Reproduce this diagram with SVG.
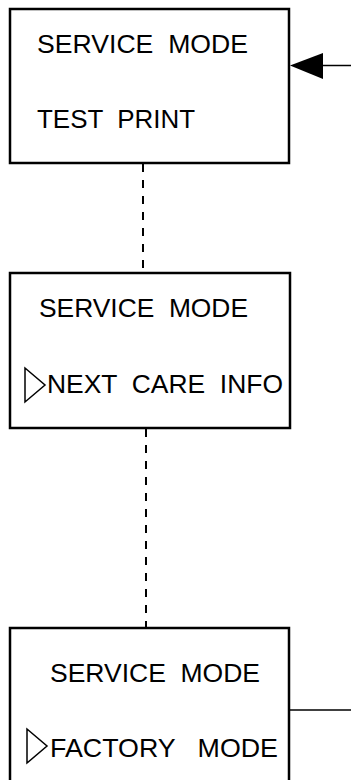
<svg xmlns="http://www.w3.org/2000/svg" width="351" height="780" viewBox="0 0 351 780">
<style>
.box{fill:#fff;stroke:#000;stroke-width:2.5}
.t{font-family:"Liberation Sans",Arial,sans-serif;font-size:26.5px;fill:#000}
.tri{fill:#fff;stroke:#000;stroke-width:1.5}
.dash{stroke:#000;stroke-width:2;stroke-dasharray:8 8;fill:none}
.ln{stroke:#000;stroke-width:1.5;fill:none}
</style>
<rect width="351" height="780" fill="#fff"/>
<g id="connectors">
<line class="dash" x1="143" y1="164" x2="143" y2="272"/>
<line class="dash" x1="146" y1="429" x2="146" y2="627"/>
<line class="ln" x1="322" y1="65.5" x2="351" y2="65.5"/>
<polygon points="290,65.5 323,53 323,79" fill="#000"/>
<line class="ln" x1="289" y1="710" x2="351" y2="710"/>
</g>
<g id="node1">
<rect class="box" x="10" y="9" width="279" height="154"/>
<text class="t" x="37" y="53" textLength="211" lengthAdjust="spacingAndGlyphs" xml:space="preserve">SERVICE  MODE</text>
<text class="t" x="37" y="128" textLength="158" lengthAdjust="spacingAndGlyphs" xml:space="preserve">TEST  PRINT</text>
</g>
<g id="node2">
<rect class="box" x="10" y="273" width="280" height="155"/>
<text class="t" x="39" y="317" textLength="209" lengthAdjust="spacingAndGlyphs" xml:space="preserve">SERVICE  MODE</text>
<polygon class="tri" points="25,368 45,385 25,402"/>
<text class="t" x="47" y="392.5" textLength="236" lengthAdjust="spacingAndGlyphs" xml:space="preserve">NEXT  CARE  INFO</text>
</g>
<g id="node3">
<rect class="box" x="10" y="628" width="279" height="160"/>
<text class="t" x="50" y="682" textLength="210" lengthAdjust="spacingAndGlyphs" xml:space="preserve">SERVICE  MODE</text>
<polygon class="tri" points="27,729 47,746 27,763"/>
<text class="t" x="50" y="757" textLength="228" lengthAdjust="spacingAndGlyphs" xml:space="preserve">FACTORY   MODE</text>
</g>
</svg>
